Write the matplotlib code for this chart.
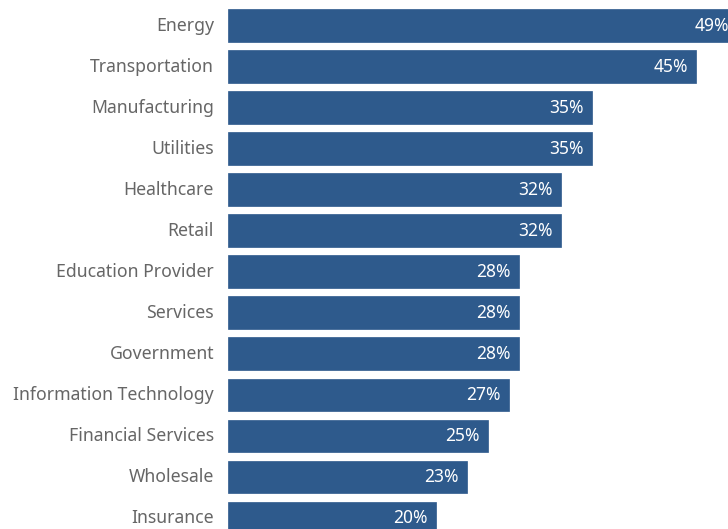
import matplotlib.pyplot as plt
from matplotlib.transforms import ScaledTranslation

# Share of organisations by sector
sectors = [
    "Energy", "Transportation", "Manufacturing", "Utilities", "Healthcare",
    "Retail", "Education Provider", "Services", "Government",
    "Information Technology", "Financial Services", "Wholesale", "Insurance",
]
values = [49, 45, 35, 35, 32, 32, 28, 28, 28, 27, 25, 23, 20]

bar_color = "#2E5A8C"
label_color = "#666666"

plt.rcParams["font.family"] = ["Noto Sans", "DejaVu Sans"]

fig = plt.figure(figsize=(7.28, 5.29), dpi=100)
ax = fig.add_axes([228 / 728, 0, 500 / 728, 1])

ypos = list(range(len(sectors)))
bars = ax.barh(ypos, values, height=0.79, color=bar_color, edgecolor=bar_color,
               linewidth=0.5)

for y, v in zip(ypos, values):
    ax.text(v - 0.8, y, f"{v}%", ha="right", va="center", color="white",
            fontsize=12.5)

ax.set_yticks(ypos)
ax.set_yticklabels(sectors, fontsize=12.7, color=label_color)
ax.tick_params(axis="y", length=0, pad=10)
# nudge sector names up a little
shift = ScaledTranslation(0, 2 / 100, fig.dpi_scale_trans)
for lbl in ax.get_yticklabels():
    lbl.set_transform(lbl.get_transform() + shift)
ax.set_xticks([])
ax.set_xlim(0, 48.08)
ax.set_ylim(12.275, -0.625)
for s in ax.spines.values():
    s.set_visible(False)

fig.savefig("out.png", dpi=100)
